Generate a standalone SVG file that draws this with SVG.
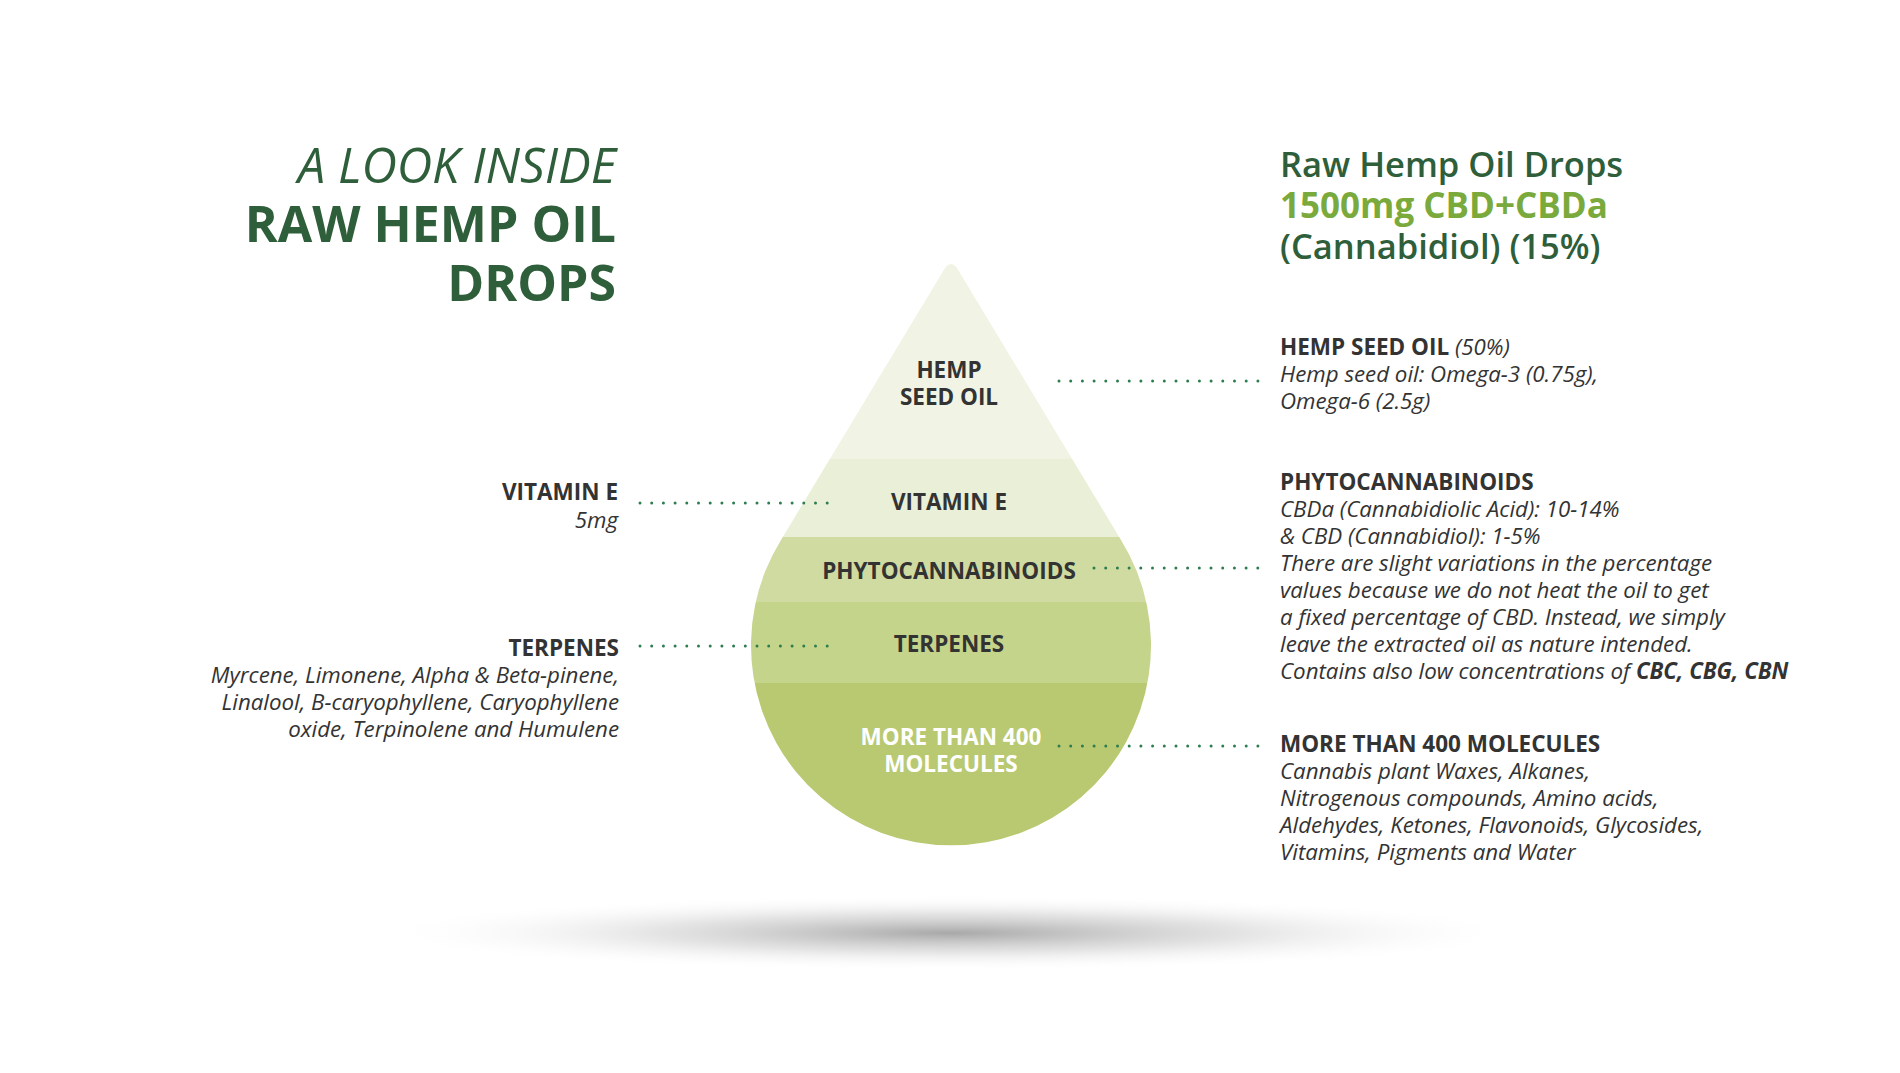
<svg xmlns="http://www.w3.org/2000/svg" width="1900" height="1073" viewBox="0 0 1900 1073">
<defs>
<style>
text{font-family:"Open Sans","Noto Sans",sans-serif;fill:#333}
.h{font-weight:700;font-size:22.5px}
.i{font-style:italic;font-size:22.3px}
.d{font-weight:700;font-size:22.5px;text-anchor:middle}
.dot{stroke:#2e7d4f;stroke-width:3;stroke-linecap:round;stroke-dasharray:0 11.7;fill:none}
.t{fill:#2e5e3a}
</style>
<clipPath id="drop"><path d="M945,268 Q951,260 957,268 L1121,540 A200,200 0 1 1 781,540 Z"/></clipPath>
<radialGradient id="sh" cx="0.5" cy="0.5" r="0.5">
<stop offset="0" stop-color="#999" stop-opacity="0.85"/>
<stop offset="0.5" stop-color="#bbb" stop-opacity="0.4"/>
<stop offset="1" stop-color="#fff" stop-opacity="0"/>
</radialGradient>
</defs>
<rect width="1900" height="1073" fill="#fff"/>
<ellipse cx="950" cy="933" rx="580" ry="38" fill="url(#sh)"/>
<g id="title">
<text x="616" y="183" text-anchor="end" class="t" style="font-style:italic;font-size:49px">A LOOK INSIDE</text>
<text x="616" y="242" text-anchor="end" class="t" style="font-weight:700;font-size:50px">RAW HEMP OIL</text>
<text x="616" y="301" text-anchor="end" class="t" style="font-weight:700;font-size:50px">DROPS</text>
</g>
<g id="header">
<text x="1280" y="177" class="t" style="font-size:34.5px;font-weight:600">Raw Hemp Oil Drops</text>
<text x="1280" y="218" style="font-size:35px;font-weight:700;fill:#7aaa3c">1500mg CBD+CBDa</text>
<text x="1280" y="259" class="t" style="font-size:34.5px;font-weight:600">(Cannabidiol) (15%)</text>
</g>
<g id="drop-shape" clip-path="url(#drop)">
<rect x="740" y="250" width="420" height="209" fill="#f1f4e4"/>
<rect x="740" y="459" width="420" height="78" fill="#eaefd7"/>
<rect x="740" y="537" width="420" height="65" fill="#d0dba1"/>
<rect x="740" y="602" width="420" height="81" fill="#c5d48b"/>
<rect x="740" y="683" width="420" height="170" fill="#b9c971"/>
</g>
<g id="drop-labels">
<text x="949" y="378" class="d">HEMP</text>
<text x="949" y="405" class="d">SEED OIL</text>
<text x="949" y="510" class="d">VITAMIN E</text>
<text x="949" y="579" class="d">PHYTOCANNABINOIDS</text>
<text x="949" y="652" class="d">TERPENES</text>
<text x="951" y="745" class="d" style="fill:#fff">MORE THAN 400</text>
<text x="951" y="772" class="d" style="fill:#fff">MOLECULES</text>
</g>
<g id="connectors">
<line class="dot" x1="1059" y1="381" x2="1260" y2="381"/>
<line class="dot" x1="1094" y1="568" x2="1260" y2="568"/>
<line class="dot" x1="1059" y1="746" x2="1260" y2="746"/>
<line class="dot" x1="640" y1="503" x2="838" y2="503"/>
<line class="dot" x1="640" y1="646" x2="838" y2="646"/>
</g>
<g id="hemp-seed-oil">
<text x="1280" y="355"><tspan class="h">HEMP SEED OIL</tspan><tspan class="i"> (50%)</tspan></text>
<text x="1280" y="382" class="i">Hemp seed oil: Omega-3 (0.75g),</text>
<text x="1280" y="409" class="i">Omega-6 (2.5g)</text>
</g>
<g id="phytocannabinoids">
<text x="1280" y="490" class="h">PHYTOCANNABINOIDS</text>
<text x="1280" y="517" class="i">CBDa (Cannabidiolic Acid): 10-14%</text>
<text x="1280" y="544" class="i">&amp; CBD (Cannabidiol): 1-5%</text>
<text x="1280" y="571" class="i">There are slight variations in the percentage</text>
<text x="1280" y="598" class="i">values because we do not heat the oil to get</text>
<text x="1280" y="625" class="i">a fixed percentage of CBD. Instead, we simply</text>
<text x="1280" y="652" class="i">leave the extracted oil as nature intended.</text>
<text x="1280" y="679" class="i">Contains also low concentrations of <tspan font-weight="700">CBC, CBG, CBN</tspan></text>
</g>
<g id="molecules">
<text x="1280" y="752" class="h">MORE THAN 400 MOLECULES</text>
<text x="1280" y="779" class="i">Cannabis plant Waxes, Alkanes,</text>
<text x="1280" y="806" class="i">Nitrogenous compounds, Amino acids,</text>
<text x="1280" y="833" class="i">Aldehydes, Ketones, Flavonoids, Glycosides,</text>
<text x="1280" y="860" class="i">Vitamins, Pigments and Water</text>
</g>
<g id="vitamin-e" text-anchor="end">
<text x="618" y="500" class="h">VITAMIN E</text>
<text x="618" y="528" class="i">5mg</text>
</g>
<g id="terpenes" text-anchor="end">
<text x="619" y="656" class="h">TERPENES</text>
<text x="619" y="683" class="i">Myrcene, Limonene, Alpha &amp; Beta-pinene,</text>
<text x="619" y="710" class="i">Linalool, B-caryophyllene, Caryophyllene</text>
<text x="619" y="737" class="i">oxide, Terpinolene and Humulene</text>
</g>
</svg>
